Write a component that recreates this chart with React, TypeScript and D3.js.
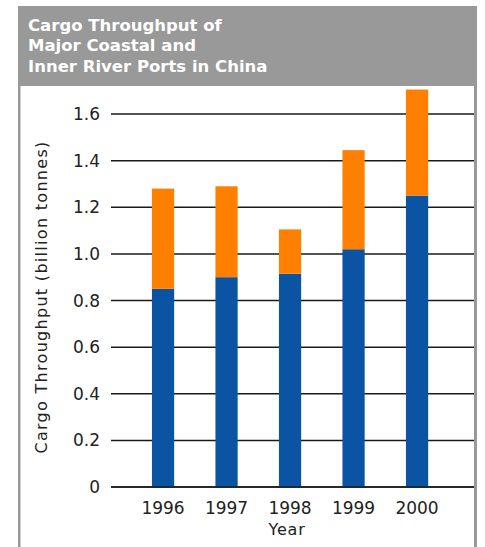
import React from "react";
import * as d3 from "d3";

const years = ["1996", "1997", "1998", "1999", "2000"];
const coastal = [0.85, 0.9, 0.915, 1.02, 1.25];
const innerRiver = [0.43, 0.39, 0.19, 0.425, 0.455];
const yTicks = [0, 0.2, 0.4, 0.6, 0.8, 1.0, 1.2, 1.4, 1.6];
const titleLines = ["Cargo Throughput of", "Major Coastal and", "Inner River Ports in China"];

const W = 485;
const H = 547;
const FONT = "'DejaVu Sans', sans-serif";

export default function App() {
  const x = d3.scaleBand<string>().domain(years).range([131.3, 448.8]).paddingInner(0.65).paddingOuter(0.325);
  const y = d3.scaleLinear().domain([0, 1.6]).range([487, 114]);
  const stacked = years.map((yr, i) => ({ yr, c: coastal[i], r: innerRiver[i] }));
  const fmt = (v: number) => (v === 0 ? "0" : d3.format(".1f")(v));

  return (
    <svg width={W} height={H} style={{ position: "absolute", left: 0, top: 0 }} fontFamily={FONT}>
      <rect x={0} y={0} width={W} height={H} fill="#fff" />
      {/* frame */}
      <rect x={18} y={6} width={459} height={H} fill="#999" />
      <rect x={20.5} y={86} width={453.5} height={H} fill="#fff" />
      {titleLines.map((t, i) => (
        <text key={t} x={28} y={31 + i * 20.3} fill="#fff" fontSize={16.5} fontWeight="bold">
          {t}
        </text>
      ))}
      {/* grid */}
      {yTicks.map((t) => (
        <g key={t}>
          <line x1={111} x2={474} y1={y(t)} y2={y(t)} stroke="#1a1a1a" strokeWidth={1.5} />
          <text x={100} y={y(t)} dy="0.36em" textAnchor="end" fontSize={17} fill="#222">
            {fmt(t)}
          </text>
        </g>
      ))}
      {/* bars */}
      {stacked.map((d) => (
        <g key={d.yr}>
          <rect x={x(d.yr)} width={x.bandwidth()} y={y(d.c)} height={y(0) - y(d.c)} fill="#0b53a3" />
          <rect x={x(d.yr)} width={x.bandwidth()} y={y(d.c + d.r)} height={y(d.c) - y(d.c + d.r)} fill="#ff8000" />
        </g>
      ))}
      <line x1={111} x2={474} y1={y(0)} y2={y(0)} stroke="#1a1a1a" strokeWidth={1.5} />
      {years.map((yr) => (
        <text key={yr} x={(x(yr) as number) + x.bandwidth() / 2} y={514} textAnchor="middle" fontSize={17} fill="#222">
          {yr}
        </text>
      ))}
      <text x={287} y={535} textAnchor="middle" fontSize={16} fill="#222" letterSpacing={0.8}>Year</text>
      <text transform="translate(47,297) rotate(-90)" textAnchor="middle" fontSize={16} fill="#222" letterSpacing={1.3}>
        Cargo Throughput (billion tonnes)
      </text>
    </svg>
  );
}
